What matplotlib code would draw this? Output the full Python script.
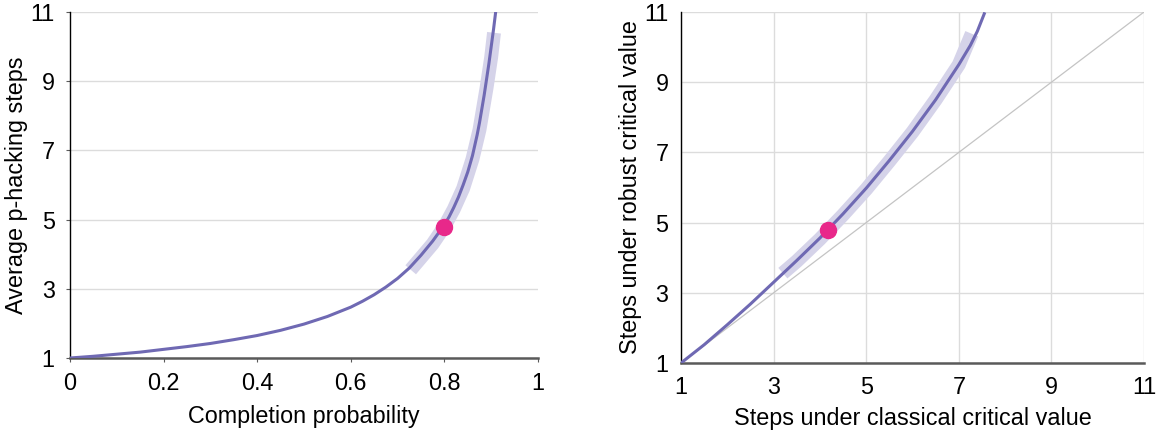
import numpy as np
import matplotlib.pyplot as plt
import matplotlib as mpl

mpl.rcParams.update({
    "font.family": ["Liberation Sans", "DejaVu Sans"],
    "font.size": 16,
})

# left panel: completion probability vs average p-hacking steps
prob = [0.0, 0.05, 0.1, 0.15, 0.2, 0.25, 0.3, 0.35, 0.4, 0.45, 0.5, 0.55, 0.6,
        0.625, 0.65, 0.675, 0.7, 0.725, 0.75, 0.775, 0.8, 0.81, 0.82, 0.83,
        0.84, 0.85, 0.86, 0.87, 0.875, 0.88, 0.885, 0.89, 0.895, 0.9, 0.905, 0.91]
steps = [1.0, 1.05, 1.11, 1.17, 1.25, 1.33, 1.42, 1.53, 1.65, 1.8, 1.98, 2.2,
         2.47, 2.64, 2.83, 3.05, 3.3, 3.6, 3.97, 4.38, 4.85, 5.08, 5.35, 5.65,
         6.0, 6.38, 6.85, 7.45, 7.8, 8.2, 8.6, 9.05, 9.5, 10.0, 10.5, 11.05]
band_prob = [0.728, 0.75, 0.775, 0.8, 0.82, 0.84, 0.86, 0.875, 0.89, 0.9, 0.906]
band_steps = [3.55, 3.9, 4.3, 4.8, 5.3, 5.9, 6.75, 7.6, 8.8, 9.7, 10.4]
pt_prob, pt_steps = 0.8, 4.8

# right panel: steps under classical vs robust critical value
classical = [1.0, 1.5, 2.0, 2.5, 3.0, 3.5, 4.0, 4.5, 5.0, 5.5, 6.0, 6.5, 7.0,
             7.25, 7.4, 7.55]
robust = [1.0, 1.52, 2.09, 2.68, 3.3, 3.92, 4.56, 5.25, 5.98, 6.77, 7.6, 8.5,
          9.5, 10.05, 10.45, 10.95]
band_classical = [3.2, 3.5, 4.0, 4.5, 5.0, 5.5, 6.0, 6.5, 7.0, 7.28]
band_robust = [3.56, 3.9, 4.53, 5.22, 5.95, 6.75, 7.58, 8.5, 9.5, 10.38]
pt_classical, pt_robust = 4.17, 4.8

ticks_y = [1, 3, 5, 7, 9, 11]
ticks_p = [0, 0.2, 0.4, 0.6, 0.8, 1]
tick_p_labels = ["0", "0.2", "0.4", "0.6", "0.8", "1"]

LINE = "#6f69b3"
BAND = "#d5d3e9"
DOT = "#e8288a"
GRID = "#dcdcdc"
SPINE = "#5a5a5a"

fig = plt.figure(figsize=(11.62, 4.33), dpi=100)
ax1 = fig.add_axes([70 / 1162, 1 - 358 / 433, 468 / 1162, 346 / 433])
ax2 = fig.add_axes([681 / 1162, 1 - 363 / 433, 463 / 1162, 351 / 433])

# left
ax1.plot(band_prob, band_steps, color=BAND, lw=10, solid_capstyle="butt", zorder=2)
ax1.plot(prob, steps, color=LINE, lw=2.2, zorder=3)
ax1.plot(pt_prob, pt_steps, "o", color=DOT, ms=11.5, zorder=4)
ax1.set_xlim(0, 1)
ax1.set_ylim(1, 11)
ax1.set_xticks(ticks_p)
ax1.set_xticklabels(tick_p_labels)
ax1.set_yticks(ticks_y)
ax1.yaxis.grid(True, color=GRID, lw=1)
ax1.set_axisbelow(True)
for s in ["top", "right"]:
    ax1.spines[s].set_visible(False)
ax1.spines["left"].set_color("black")
ax1.spines["left"].set_linewidth(1.0)
ax1.spines["bottom"].set_color(SPINE)
ax1.spines["bottom"].set_linewidth(1.8)
ax1.tick_params(axis="x", length=3, color=SPINE, labelsize=16.8, pad=7)
ax1.tick_params(axis="y", length=3, color=SPINE, labelsize=16.8, pad=8)
ax1.set_xlabel("Completion probability", fontsize=16.8, labelpad=7)
ax1.set_ylabel("Average p-hacking steps", fontsize=16.8, labelpad=1.5)

# right
ax2.plot([1, 11], [1, 11], color="#c4c4c4", lw=0.9, zorder=1)
ax2.plot(band_classical, band_robust, color=BAND, lw=10, solid_capstyle="butt", zorder=2)
ax2.plot(classical, robust, color=LINE, lw=2.2, zorder=3)
ax2.plot(pt_classical, pt_robust, "o", color=DOT, ms=11.5, zorder=4)
ax2.set_xlim(1, 11)
ax2.set_ylim(1, 11)
ax2.set_xticks(ticks_y)
ax2.set_yticks(ticks_y)
ax2.grid(True, color=GRID, lw=1)
ax2.set_axisbelow(True)
for s in ["top", "right"]:
    ax2.spines[s].set_visible(False)
ax2.spines["left"].set_color("black")
ax2.spines["left"].set_linewidth(1.0)
ax2.spines["bottom"].set_color(SPINE)
ax2.spines["bottom"].set_linewidth(1.8)
ax2.tick_params(axis="both", length=0, labelsize=16.8, pad=9)
ax2.set_xlabel("Steps under classical critical value", fontsize=16.8, labelpad=6)
ax2.set_ylabel("Steps under robust critical value", fontsize=16.8, labelpad=1.5)

fig.savefig("out.png", dpi=100)
